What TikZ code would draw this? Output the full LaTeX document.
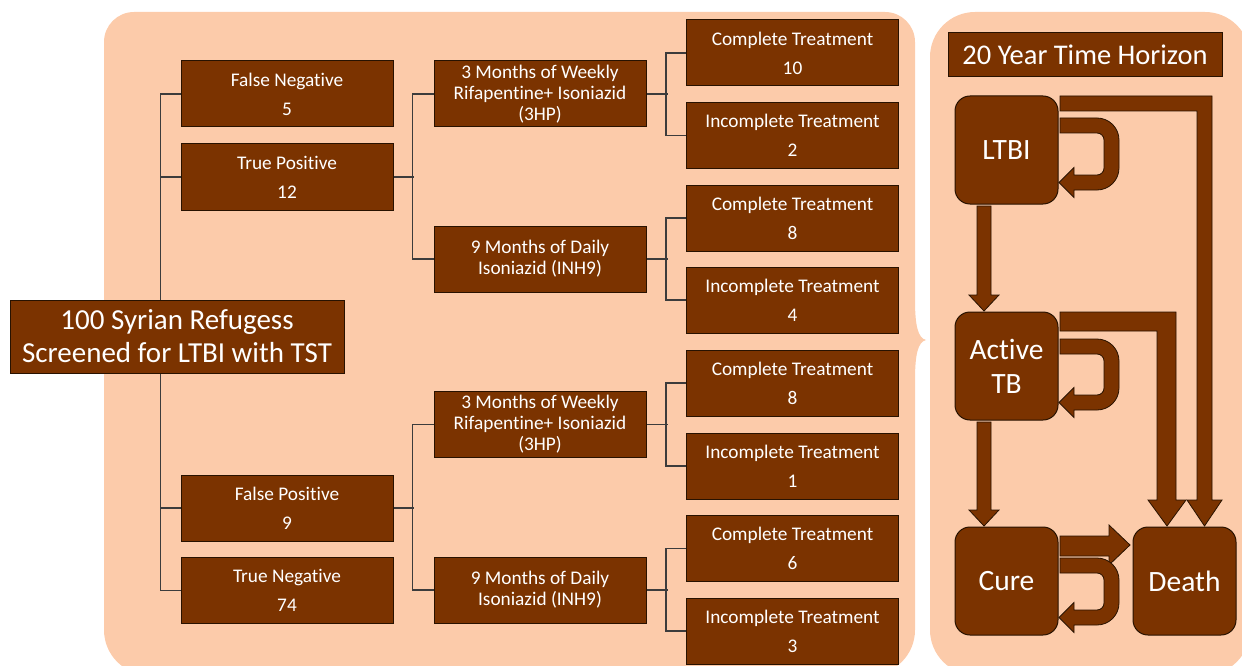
\documentclass[tikz,border=0pt]{standalone}
\usepackage{fontspec}
\setmainfont[RawFeature={-liga}]{Carlito}
\usetikzlibrary{calc}
\definecolor{peach}{RGB}{252,203,170}
\definecolor{brn}{RGB}{123,51,0}
\definecolor{edgec}{RGB}{40,18,0}
\definecolor{treeline}{RGB}{60,60,60}
\newcommand\uturnarrow[2]{%
  \filldraw[barrow] (1060,#1) -- (1097,#1) arc[start angle=-90,end angle=0,radius=22]
    -- (1119,#2-22) arc[start angle=0,end angle=90,radius=22]
    -- (1074,#2) -- (1074,#2+7.5) -- (1059,#2-7.5) -- (1074,#2-22.5) -- (1074,#2-15)
    -- (1097,#2-15) arc[start angle=90,end angle=0,radius=7]
    -- (1104,#1+22) arc[start angle=0,end angle=-90,radius=7]
    -- (1060,#1+15) -- cycle;}
\begin{document}
\begin{tikzpicture}[x=1pt,y=-1pt,
  box/.style={draw=edgec, line width=1pt, fill=brn, text=white, align=center,
    inner sep=0pt, minimum width=212pt, minimum height=66pt,
    font=\fontsize{19.3}{29}\selectfont},
  boxtight/.style={box, font=\fontsize{19.3}{21}\selectfont},
  state/.style={draw=edgec, line width=1pt, fill=brn, text=white, align=center,
    rounded corners=15pt, minimum width=103pt, minimum height=108pt, inner sep=0pt,
    font=\fontsize{29.5}{34}\selectfont},
  barrow/.style={fill=brn, draw=edgec, line width=0.8pt, line join=miter},
  tree/.style={draw=treeline, line width=1.2pt}
]
\useasboundingbox (0,0) rectangle (1242,666);
% panels
\fill[peach] (104,42) arc[start angle=180,end angle=270,radius=30] -- (885,12)
  arc[start angle=-90,end angle=0,radius=30] -- (915,300)
  .. controls (915,326) and (918,338) .. (926,340)
  .. controls (918,342) and (915,354) .. (915,380)
  -- (915,630) arc[start angle=0,end angle=90,radius=45] -- (149,675)
  arc[start angle=90,end angle=180,radius=45] -- cycle;
\fill[peach] (930,57) arc[start angle=180,end angle=270,radius=45] -- (1205,12)
  arc[start angle=-90,end angle=0,radius=45] -- (1250,630)
  arc[start angle=0,end angle=90,radius=45] -- (975,675)
  arc[start angle=90,end angle=180,radius=45] -- cycle;

% level 1
\node[box] (fn) at (287,94) {False Negative\\5};
\node[box] (tp) at (287,177) {True Positive\\12};
\node[box] (fp) at (287,508) {False Positive\\9};
\node[box] (tn) at (287,590.5) {True Negative\\74};
% level 2
\node[boxtight] (h3a) at (540,94) {3 Months of Weekly\\Rifapentine+ Isoniazid\\(3HP)};
\node[boxtight] (inha) at (540,259) {9 Months of Daily\\Isoniazid (INH9)};
\node[boxtight] (h3b) at (540,424.5) {3 Months of Weekly\\Rifapentine+ Isoniazid\\(3HP)};
\node[boxtight] (inhb) at (540,590) {9 Months of Daily\\Isoniazid (INH9)};
% level 3
\node[box] (c1) at (792.5,53) {Complete Treatment\\10};
\node[box] (i1) at (792.5,135.5) {Incomplete Treatment\\2};
\node[box] (c2) at (792.5,218) {Complete Treatment\\8};
\node[box] (i2) at (792.5,300) {Incomplete Treatment\\4};
\node[box] (c3) at (792.5,383) {Complete Treatment\\8};
\node[box] (i3) at (792.5,466) {Incomplete Treatment\\1};
\node[box] (c4) at (792.5,548.5) {Complete Treatment\\6};
\node[box] (i4) at (792.5,631) {Incomplete Treatment\\3};

% tree lines
\draw[tree] (fn.west) -- ++(-20,0) |- (tn.west);
\draw[tree] (tp.west) -- ++(-20,0);
\draw[tree] (fp.west) -- ++(-20,0);
\draw[tree] (tp.east) -- ++(20,0);
\draw[tree] (fp.east) -- ++(20,0);
\draw[tree] (h3a.west) -- ++(-21,0) |- (inha.west);
\draw[tree] (h3b.west) -- ++(-21,0) |- (inhb.west);
\draw[tree] (h3a.east) -- ++(21,0);
\draw[tree] (inha.east) -- ++(21,0);
\draw[tree] (h3b.east) -- ++(21,0);
\draw[tree] (inhb.east) -- ++(21,0);
\draw[tree] (c1.west) -- ++(-20,0) |- (i1.west);
\draw[tree] (c2.west) -- ++(-20,0) |- (i2.west);
\draw[tree] (c3.west) -- ++(-20,0) |- (i3.west);
\draw[tree] (c4.west) -- ++(-20,0) |- (i4.west);

% root
\node[box, minimum width=334pt, minimum height=73pt, font=\fontsize{29}{33}\selectfont]
  (root) at (177,336.5) {100 Syrian Refugess\\Screened for LTBI with TST};

% right panel
\node[draw=edgec, line width=1pt, fill=brn, text=white, minimum width=274pt,
  minimum height=44pt, inner sep=0pt, font=\fontsize{28.5}{30}\selectfont]
  (th) at (1085,55) {20 Year Time Horizon};
\node[state] (ltbi) at (1006.5,150) {LTBI};
\node[state] (act) at (1006.5,366) {Active\\TB};
\node[state] (cure) at (1006.5,581) {Cure};
\node[state] (death) at (1184.5,581) {Death};

% block arrows
\filldraw[barrow] (977,206) -- (991,206) -- (991,295) -- (999,295) -- (984,311)
  -- (969,295) -- (977,295) -- cycle;
\filldraw[barrow] (977,422) -- (991,422) -- (991,510) -- (999,510) -- (984,526)
  -- (969,510) -- (977,510) -- cycle;
\filldraw[barrow] (1060,312) -- (1176,312) -- (1176,500) -- (1186,500) -- (1167,526)
  -- (1148,500) -- (1157,500) -- (1157,331) -- (1060,331) -- cycle;
\filldraw[barrow] (1060,96) -- (1212,96) -- (1212,500) -- (1222,500) -- (1204.5,526)
  -- (1187,500) -- (1197,500) -- (1197,111) -- (1060,111) -- cycle;
\filldraw[barrow] (1060,536) -- (1109,536) -- (1109,525) -- (1130,545) -- (1109,565)
  -- (1109,556) -- (1060,556) -- cycle;
\uturnarrow{118}{190}
\uturnarrow{339}{410}
\uturnarrow{558}{625}
\end{tikzpicture}
\end{document}
